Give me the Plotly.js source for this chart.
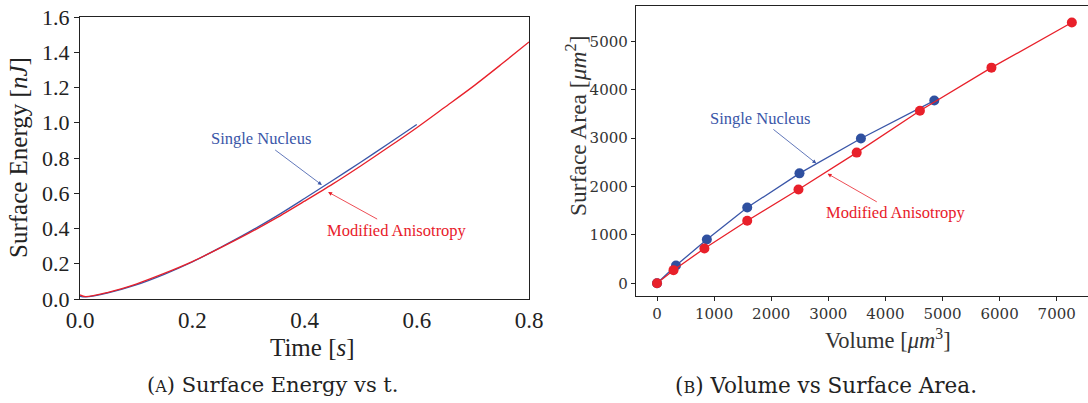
<!DOCTYPE html>
<html>
<head>
<meta charset="utf-8">
<script src="https://cdn.plot.ly/plotly-3.0.1.min.js"></script>
<style>html,body{margin:0;padding:0;background:#fff;}#chart{width:1088px;height:403px;}</style>
</head>
<body>
<div id="chart"></div>
<script>
// ---- Panel A: Surface energy vs time ----
const timeAniso   = [0, 0.01, 0.05, 0.1, 0.15, 0.2, 0.25, 0.3, 0.35, 0.4, 0.45, 0.5, 0.55, 0.6, 0.65, 0.7, 0.75, 0.8];
const energyAniso = [0.023, 0.013, 0.038, 0.085, 0.145, 0.212, 0.29, 0.372, 0.46, 0.555, 0.652, 0.755, 0.862, 0.972, 1.088, 1.205, 1.33, 1.458];
const timeSingle   = [0, 0.01, 0.05, 0.1, 0.15, 0.2, 0.25, 0.3, 0.35, 0.4, 0.45, 0.5, 0.55, 0.6];
const energySingle = [0.015, 0.012, 0.035, 0.08, 0.14, 0.21, 0.292, 0.378, 0.47, 0.57, 0.672, 0.776, 0.882, 0.99];

// ---- Panel B: Volume vs surface area ----
const volSingle  = [0, 332, 873, 1580, 2495, 3571, 4856];
const areaSingle = [0, 367, 905, 1565, 2272, 2993, 3776];
const volAniso   = [0, 289, 830, 1580, 2477, 3497, 4604, 5857, 7265];
const areaAniso  = [0, 272, 721, 1293, 1939, 2701, 3565, 4456, 5388];

const labelSingle = "Single Nucleus";
const labelAniso  = "Modified Anisotropy";
const xTitleA = "Time [<i>s</i>]";
const yTitleA = "Surface Energy [<i>nJ</i>]";
const xTitleB = "Volume [<i>μm</i><sup>3</sup>]";
const yTitleB = "Surface Area [<i>μm</i><sup>2</sup>]";
const captionA = '(<span style="font-size:16px">A</span>) Surface Energy vs t.';
const captionB = '(<span style="font-size:16px">B</span>) Volume vs Surface Area.';

const blue = "#3a56a8";
const red = "#e8202a";
const serifA = "Liberation Serif, Times New Roman, serif";
const serifB = "DejaVu Serif, serif";
const ink = "#222";

const traces = [
  {x: timeSingle, y: energySingle, mode: "lines", line: {color: blue, width: 1.3, shape: "spline", smoothing: 0.8}, xaxis: "x", yaxis: "y", name: labelSingle},
  {x: timeAniso, y: energyAniso, mode: "lines", line: {color: red, width: 1.3, shape: "spline", smoothing: 0.8}, xaxis: "x", yaxis: "y", name: labelAniso},
  {x: volSingle, y: areaSingle, mode: "lines+markers", line: {color: blue, width: 1.3}, marker: {color: "#2f50a0", size: 10}, xaxis: "x2", yaxis: "y2", name: labelSingle},
  {x: volAniso, y: areaAniso, mode: "lines+markers", line: {color: red, width: 1.3}, marker: {color: red, size: 10}, xaxis: "x2", yaxis: "y2", name: labelAniso}
];

const layout = {
  width: 1088, height: 403,
  margin: {l: 0, r: 0, t: 0, b: 0},
  paper_bgcolor: "#fff", plot_bgcolor: "#fff",
  showlegend: false,
  xaxis: {
    domain: [80/1088, 529/1088], anchor: "y",
    range: [0, 0.8], tickvals: [0, 0.2, 0.4, 0.6, 0.8], ticktext: ["0.0","0.2","0.4","0.6","0.8"],
    showgrid: false, zeroline: false, showline: true, linecolor: ink, linewidth: 1.2, mirror: true,
    ticks: "", tickfont: {family: serifA, size: 23, color: ink}
  },
  yaxis: {
    domain: [104/403, 386/403], anchor: "x",
    range: [0, 1.6], tickvals: [0, 0.2, 0.4, 0.6, 0.8, 1.0, 1.2, 1.4, 1.6], ticktext: ["0.0","0.2","0.4","0.6","0.8","1.0","1.2","1.4","1.6"],
    showgrid: false, zeroline: false, showline: true, linecolor: ink, linewidth: 1.2, mirror: true,
    ticks: "outside", ticklen: 5, tickcolor: ink, tickfont: {family: serifA, size: 22, color: ink}
  },
  xaxis2: {
    domain: [636/1088, 1], anchor: "y2",
    range: [-368, 7548], tickvals: [0,1000,2000,3000,4000,5000,6000,7000],
    showgrid: false, zeroline: false, showline: true, linecolor: ink, linewidth: 1.2, mirror: true,
    ticks: "outside", ticklen: 4, tickcolor: ink, tickfont: {family: serifB, size: 15, color: "#333"}
  },
  yaxis2: {
    domain: [107/403, 397/403], anchor: "x2",
    range: [-262, 5730], tickvals: [0,1000,2000,3000,4000,5000],
    showgrid: false, zeroline: false, showline: true, linecolor: ink, linewidth: 1.2, mirror: false,
    ticks: "outside", ticklen: 4, tickcolor: ink, tickfont: {family: serifB, size: 15, color: "#333"}
  },
  annotations: [
    // axis titles
    {xref: "paper", yref: "paper", x: 312/1088, y: (403-347)/403, xanchor: "center", yanchor: "middle",
     text: xTitleA, showarrow: false, font: {family: serifA, size: 25, color: ink}},
    {xref: "paper", yref: "paper", x: 18/1088, y: (403-158)/403, xanchor: "center", yanchor: "middle", textangle: -90,
     text: yTitleA, showarrow: false, font: {family: serifA, size: 25, color: ink}},
    {xref: "paper", yref: "paper", x: 888/1088, y: (403-339)/403, xanchor: "center", yanchor: "middle",
     text: xTitleB, showarrow: false, font: {family: serifA, size: 22.5, color: "#333"}},
    {xref: "paper", yref: "paper", x: 576/1088, y: (403-126)/403, xanchor: "center", yanchor: "middle", textangle: -90,
     text: yTitleB, showarrow: false, font: {family: serifA, size: 23.5, color: "#333"}},
    // series labels
    {xref: "x", yref: "y", x: 0.431, y: 0.647, axref: "x", ayref: "y", ax: 0.3216, ay: 0.908,
     text: labelSingle, showarrow: true, arrowhead: 2, arrowsize: 1, arrowwidth: 0.8, arrowcolor: blue,
     font: {family: serifA, size: 16.5, color: blue}},
    {xref: "x", yref: "y", x: 0.442, y: 0.607, axref: "x", ayref: "y", ax: 0.565, ay: 0.391,
     text: labelAniso, showarrow: true, arrowhead: 2, arrowsize: 1, arrowwidth: 0.8, arrowcolor: red,
     font: {family: serifA, size: 16.5, color: red}},
    {xref: "x2", yref: "y2", x: 2790, y: 2476, axref: "x2", ayref: "y2", ax: 1795, ay: 3408,
     text: labelSingle, showarrow: true, arrowhead: 2, arrowsize: 1, arrowwidth: 0.8, arrowcolor: blue,
     font: {family: serifA, size: 16.5, color: blue}},
    {xref: "x2", yref: "y2", x: 2987, y: 2265, axref: "x2", ayref: "y2", ax: 4186, ay: 1456,
     text: labelAniso, showarrow: true, arrowhead: 2, arrowsize: 1, arrowwidth: 0.8, arrowcolor: red,
     font: {family: serifA, size: 16.5, color: red}},
    // captions
    {xref: "paper", yref: "paper", x: 272/1088, y: (403-385)/403, xanchor: "center", yanchor: "middle",
     text: captionA, showarrow: false, font: {family: serifB, size: 21, color: ink}},
    {xref: "paper", yref: "paper", x: 826/1088, y: (403-385)/403, xanchor: "center", yanchor: "middle",
     text: captionB, showarrow: false, font: {family: serifB, size: 21.5, color: ink}}
  ]
};

Plotly.newPlot("chart", traces, layout, {displayModeBar: false, staticPlot: true});
</script>
</body>
</html>
